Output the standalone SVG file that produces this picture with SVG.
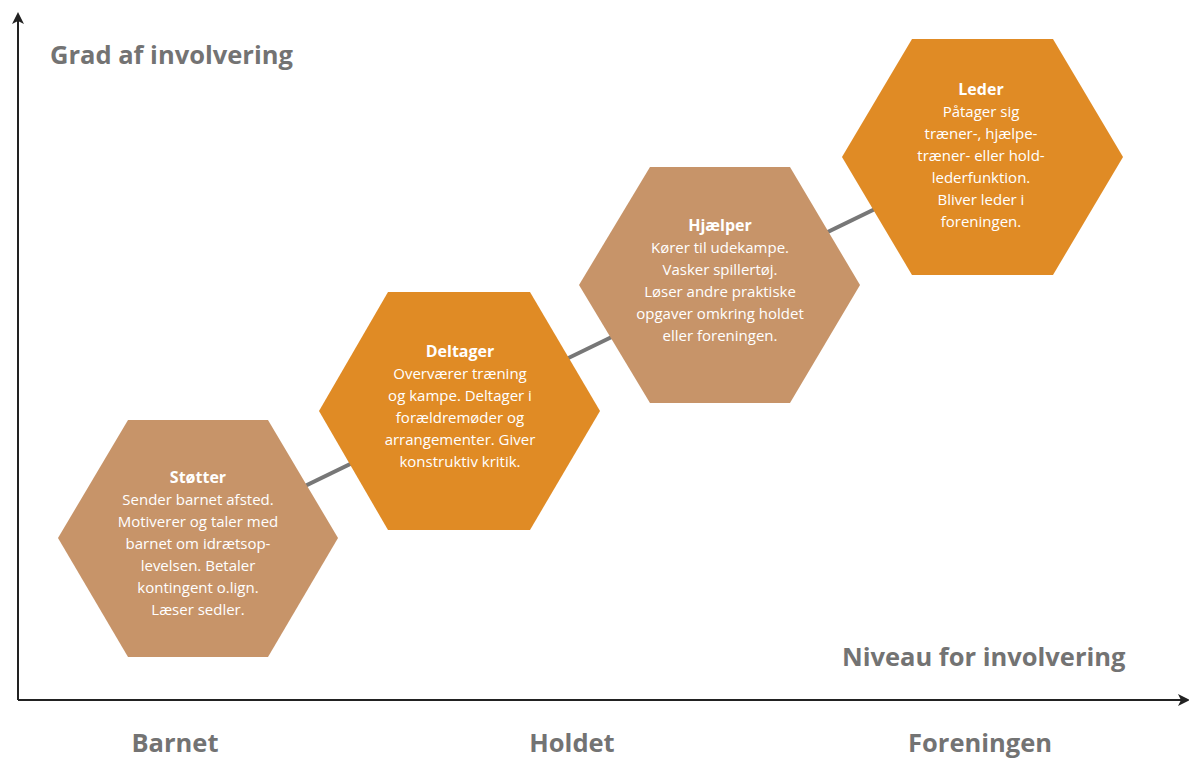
<svg xmlns="http://www.w3.org/2000/svg" width="1189" height="758" viewBox="0 0 1189 758">
<defs>
<style>
.tan{fill:#C79469}
.org{fill:#E08B25}
.t{font-family:"Open Sans","Noto Sans",sans-serif;fill:#fff;text-anchor:middle;font-size:15px}
.h{font-weight:bold;font-size:16px}
.lab{font-family:"Open Sans","Noto Sans",sans-serif;fill:#737373;font-weight:bold;font-size:25.5px}
.ax{stroke:#222;stroke-width:2;fill:none}
</style>
<marker id="arr" viewBox="0 0 12 12" refX="10" refY="6" markerWidth="12" markerHeight="12" markerUnits="userSpaceOnUse" orient="auto">
<path d="M0,0 L12,6 L0,12 L3,6 Z" fill="#222"/>
</marker>
</defs>
<rect width="1189" height="758" fill="#fff"/>
<g id="axes">
<path class="ax" d="M18,700 L18,14" marker-end="url(#arr)"/>
<path class="ax" d="M18,700 L1188,700" marker-end="url(#arr)"/>
</g>
<g id="connectors">
<line x1="198" y1="538" x2="982" y2="157" stroke="#777" stroke-width="4"/>
</g>
<g id="stotter">
<polygon class="tan" points="58,538 128,420 268,420 338,538 268,657 128,657"/>
<text class="t" x="198" y="483"><tspan class="h">Støtter</tspan><tspan x="198" dy="22">Sender barnet afsted.</tspan><tspan x="198" dy="22">Motiverer og taler med</tspan><tspan x="198" dy="22">barnet om idrætsop-</tspan><tspan x="198" dy="22">levelsen. Betaler</tspan><tspan x="198" dy="22">kontingent o.lign.</tspan><tspan x="198" dy="22">Læser sedler.</tspan></text>
</g>
<g id="deltager">
<polygon class="org" points="319,411 388,292 530,292 600,411 530,530 388,530"/>
<text class="t" x="460" y="357"><tspan class="h">Deltager</tspan><tspan x="460" dy="22">Overværer træning</tspan><tspan x="460" dy="22">og kampe. Deltager i</tspan><tspan x="460" dy="22">forældremøder og</tspan><tspan x="460" dy="22">arrangementer. Giver</tspan><tspan x="460" dy="22">konstruktiv kritik.</tspan></text>
</g>
<g id="hjaelper">
<polygon class="tan" points="579,285 650,167 790,167 860,285 790,403 650,403"/>
<text class="t" x="720" y="231"><tspan class="h">Hjælper</tspan><tspan x="720" dy="22">Kører til udekampe.</tspan><tspan x="720" dy="22">Vasker spillertøj.</tspan><tspan x="720" dy="22">Løser andre praktiske</tspan><tspan x="720" dy="22">opgaver omkring holdet</tspan><tspan x="720" dy="22">eller foreningen.</tspan></text>
</g>
<g id="leder">
<polygon class="org" points="842,157 912,39 1053,39 1123,157 1053,275 912,275"/>
<text class="t" x="981" y="95"><tspan class="h">Leder</tspan><tspan x="981" dy="22">Påtager sig</tspan><tspan x="981" dy="22">træner-, hjælpe-</tspan><tspan x="981" dy="22">træner- eller hold-</tspan><tspan x="981" dy="22">lederfunktion.</tspan><tspan x="981" dy="22">Bliver leder i</tspan><tspan x="981" dy="22">foreningen.</tspan></text>
</g>
<g id="labels">
<text class="lab" x="50" y="64">Grad af involvering</text>
<text class="lab" x="842" y="666">Niveau for involvering</text>
<text class="lab" x="175" y="752" text-anchor="middle">Barnet</text>
<text class="lab" x="572" y="752" text-anchor="middle">Holdet</text>
<text class="lab" x="980" y="752" text-anchor="middle">Foreningen</text>
</g>
</svg>
